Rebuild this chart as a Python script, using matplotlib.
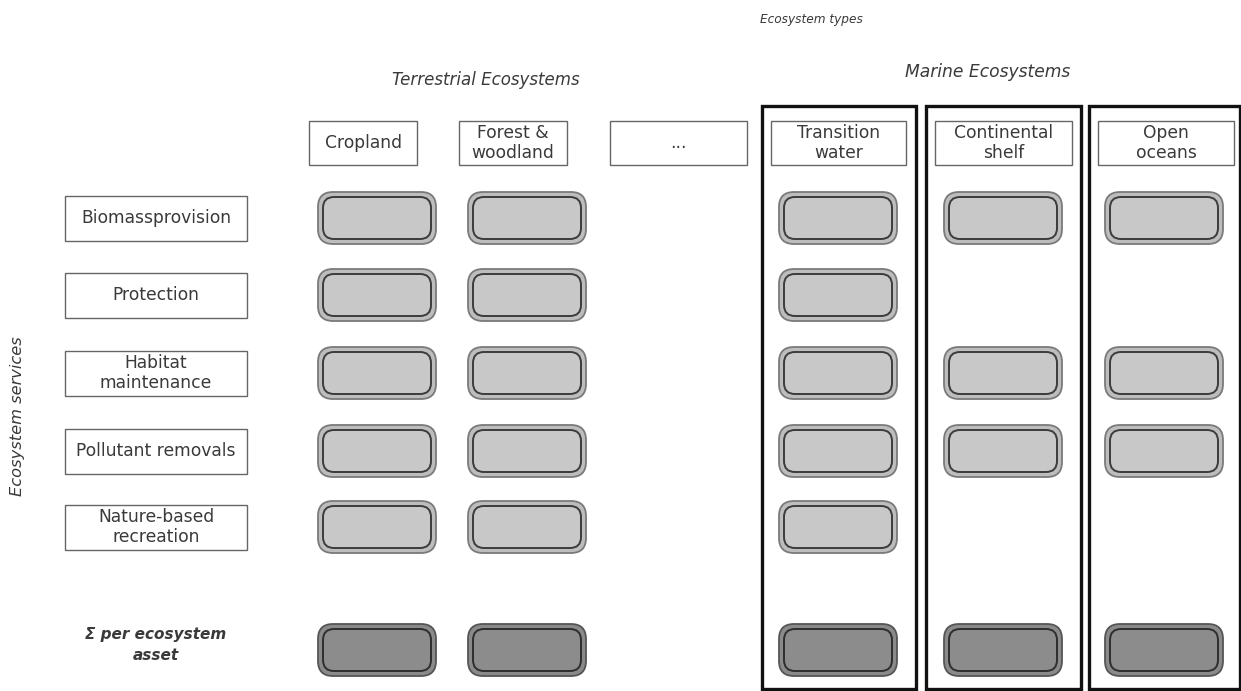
import matplotlib
matplotlib.use("Agg")
import matplotlib.pyplot as plt
from matplotlib.patches import FancyBboxPatch, Rectangle

ecosystems = ["Cropland", "Forest &\nwoodland", "...", "Transition\nwater", "Continental\nshelf", "Open\noceans"]
services = ["Biomassprovision", "Protection", "Habitat\nmaintenance", "Pollutant removals", "Nature-based\nrecreation"]
presence = [
    [1, 1, 0, 1, 1, 1],
    [1, 1, 0, 1, 0, 0],
    [1, 1, 0, 1, 1, 1],
    [1, 1, 0, 1, 1, 1],
    [1, 1, 0, 1, 0, 0],
]
total_row = [1, 1, 0, 1, 1, 1]
total_label = "Σ per ecosystem\nasset"

# layout (pixel space)
hdr_x = [(309, 417), (459, 567), (610, 747), (771, 906), (935, 1072), (1098, 1234)]
pill_cx = [377, 527, None, 838, 1003, 1164]
row_cy = [218, 295, 373, 451, 527]
sum_cy = 650
frames = [(762, 916), (926, 1081), (1089, 1240)]

FONT = "DejaVu Sans"
fig = plt.figure(figsize=(12.41, 6.91), dpi=100)
ax = fig.add_axes([0, 0, 1, 1])
ax.set_xlim(0, 1241)
ax.set_ylim(691, 0)
ax.axis("off")

tstyle = dict(fontfamily=FONT, color="#3a3a3a")

ax.text(811, 19, "Ecosystem types", ha="center", va="center", style="italic", fontsize=8.7, **tstyle)
ax.text(486, 80, "Terrestrial Ecosystems", ha="center", va="center", style="italic", fontsize=12, **tstyle)
ax.text(988, 72, "Marine Ecosystems", ha="center", va="center", style="italic", fontsize=12.3, **tstyle)
ax.text(18, 416, "Ecosystem services", ha="center", va="center", style="italic", fontsize=11.7,
        rotation=90, **tstyle)

# big marine frames
for x0, x1 in frames:
    ax.add_patch(Rectangle((x0, 106), x1 - x0, 583, fill=False, ec="#111111", lw=2.4, zorder=1))

# column headers
for (x0, x1), name in zip(hdr_x, ecosystems):
    ax.add_patch(Rectangle((x0, 121), x1 - x0, 44, fc="white", ec="#666666", lw=1.0, zorder=2))
    ax.text((x0 + x1) / 2, 143, name, ha="center", va="center", fontsize=12.3,
            linespacing=1.12, zorder=3, **tstyle)

# row labels
for cy, name in zip(row_cy, services):
    ax.add_patch(Rectangle((65, cy - 22), 182, 45, fc="white", ec="#666666", lw=1.0, zorder=2))
    ax.text(156, cy, name, ha="center", va="center", fontsize=12.3, linespacing=1.12, zorder=3, **tstyle)

ax.text(156, sum_cy - 5, total_label, ha="center", va="center", fontsize=11, style="italic",
        fontweight="bold", linespacing=1.5, **tstyle)


def pill(cx, cy, ring_fill, ring_edge, inner_fill, inner_edge):
    w, h = 118, 52
    r_out, r_in = 15, 11
    ax.add_patch(FancyBboxPatch((cx - w / 2 + r_out, cy - h / 2 + r_out), w - 2 * r_out, h - 2 * r_out,
                                boxstyle=f"round,pad={r_out}", fc=ring_fill, ec=ring_edge, lw=1.3, zorder=3))
    wi, hi = w - 10, h - 10
    ax.add_patch(FancyBboxPatch((cx - wi / 2 + r_in, cy - hi / 2 + r_in), wi - 2 * r_in, hi - 2 * r_in,
                                boxstyle=f"round,pad={r_in}", fc=inner_fill, ec=inner_edge, lw=1.4, zorder=4))


for r, cy in enumerate(row_cy):
    for c, v in enumerate(presence[r]):
        if v:
            pill(pill_cx[c], cy, "#bdbdbd", "#7a7a7a", "#c8c8c8", "#3c3c3c")

for c, v in enumerate(total_row):
    if v:
        pill(pill_cx[c], sum_cy, "#8a8a8a", "#555555", "#8c8c8c", "#2e2e2e")

fig.savefig("out.png", dpi=100)
